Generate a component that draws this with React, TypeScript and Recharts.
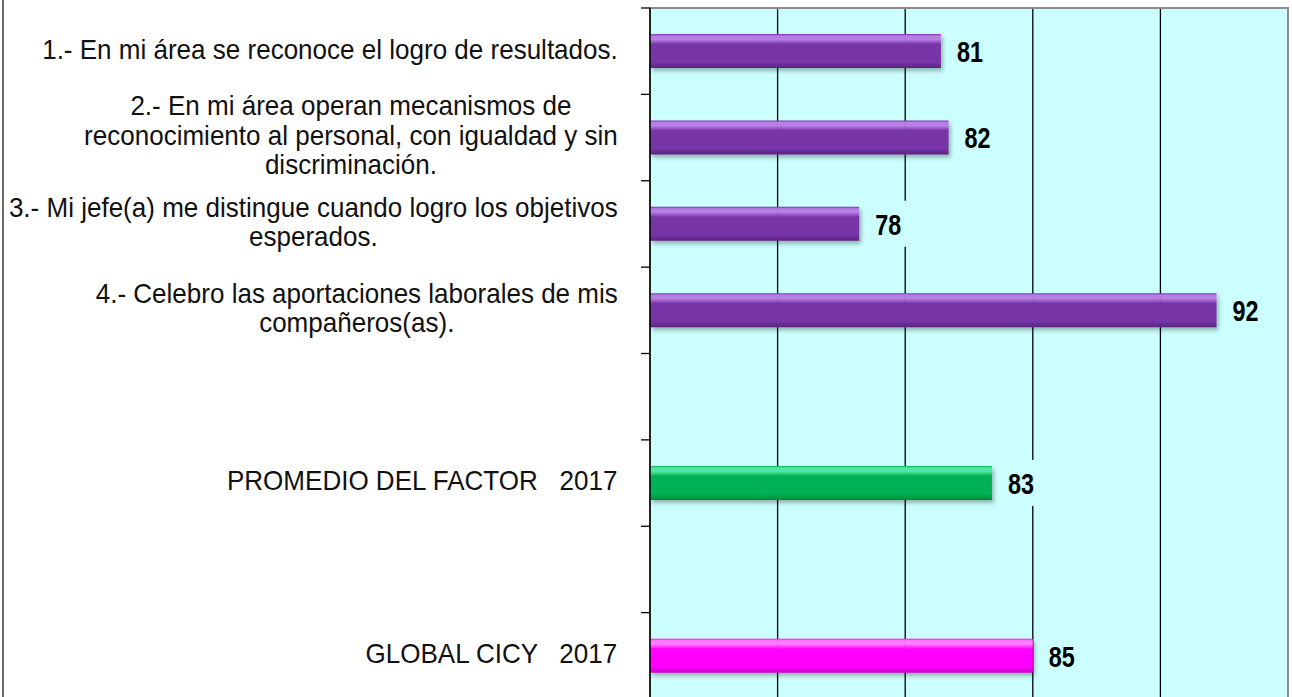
import React from 'react'
import { BarChart, Bar, XAxis, YAxis, CartesianGrid, Cell, LabelList, ReferenceArea } from 'recharts'

const categories = ['p1', 'p2', 'p3', 'p4', 'gap1', 'promedio', 'gap2', 'global']
const categoryLines = [
  ['1.- En mi área se reconoce el logro de resultados.'],
  ['2.- En mi área operan mecanismos de', 'reconocimiento al personal, con igualdad y sin', 'discriminación.'],
  ['3.- Mi jefe(a) me distingue cuando logro los objetivos', 'esperados.'],
  ['4.- Celebro las aportaciones laborales de mis', 'compañeros(as).'],
  [],
  ['PROMEDIO DEL FACTOR   2017'],
  [],
  ['GLOBAL CICY   2017'],
]
const scores = [81.4, 81.7, 78.2, 92.2, null, 83.4, null, 85.0]
const barColors = ['purple', 'purple', 'purple', 'purple', 'purple', 'green', 'green', 'magenta']
const xTicks = [75, 80, 85, 90]

const data = categories.map((id, i) => ({ id, lines: categoryLines[i], score: scores[i], color: barColors[i] }))

const W = 1292
const H = 720
const M = { top: 8, right: 4, bottom: 21, left: 0 }
const AXIS_W = 650
const band = (H - M.top - M.bottom) / categories.length
const FAMILY = '"Liberation Sans", Arial, sans-serif'
const FS = 28
const SX = 0.93

let ctx: CanvasRenderingContext2D | null = null
const measure = (s: string) => {
  if (!ctx) ctx = document.createElement('canvas').getContext('2d')
  if (!ctx) return s.length * 12
  ctx.font = `${FS}px ${FAMILY}`
  return ctx.measureText(s).width * SX
}

const CategoryTick = (props: any) => {
  const { y, index, payload } = props
  const row = data.find((d) => d.id === payload.value)
  const lines = row ? row.lines : []
  const blockW = Math.max(0, ...lines.map(measure))
  const cx = AXIS_W - 32 - blockW / 2
  const lh = 29.5
  const y0 = y - ((lines.length - 1) * lh) / 2 - 2
  return (
    <g>
      <line x1={AXIS_W - 9} x2={AXIS_W} y1={y - band / 2} y2={y - band / 2} stroke="#000" strokeWidth={1.3} />
      {index === categories.length - 1 && (
        <line x1={AXIS_W - 9} x2={AXIS_W} y1={y + band / 2} y2={y + band / 2} stroke="#000" strokeWidth={1.3} />
      )}
      {lines.map((l: string, i: number) => (
        <text
          key={i}
          transform={`translate(${cx},${y0 + i * lh}) scale(${SX},1)`}
          textAnchor="middle"
          dominantBaseline="central"
          fontFamily={FAMILY}
          fontSize={FS}
          style={{ whiteSpace: 'pre' }}
          fill="#111"
        >
          {l}
        </text>
      ))}
    </g>
  )
}

const ValueLabel = (props: any) => {
  const { x, y, width, height, value } = props
  if (value == null) return null
  const tx = x + width + 16
  const cy = y + height / 2
  return (
    <g>
      <rect x={tx - 8} y={cy - 23} width={44} height={46} fill="#ccffff" />
      <text
        transform={`translate(${tx},${cy + 1}) scale(0.78,1)`}
        dominantBaseline="central"
        fontFamily={FAMILY}
        fontWeight="bold"
        fontSize={30}
        fill="#000"
      >
        {Math.round(value)}
      </text>
    </g>
  )
}

const gradients: Record<string, [string, string, string]> = {
  purple: ['#b77ce6', '#7835a7', '#5a2382'],
  green: ['#4ee89c', '#03b255', '#008a3c'],
  magenta: ['#ff7aff', '#ff05ff', '#c800c8'],
}

export default function App() {
  return (
    <div style={{ position: 'absolute', left: 0, top: 0, width: W, height: 697, overflow: 'hidden', background: '#fff' }}>
      <div style={{ position: 'absolute', left: 2, top: 0, width: 2, height: 697, background: '#6b6b6b' }} />
      <BarChart width={W} height={H} data={data} layout="vertical" margin={M} barSize={34}>
        <defs>
          {Object.entries(gradients).map(([k, [a, b, c]]) => (
            <linearGradient key={k} id={`g-${k}`} x1="0" y1="0" x2="0" y2="1">
              <stop offset="0%" stopColor={b} />
              <stop offset="6%" stopColor={a} />
              <stop offset="16%" stopColor={a} stopOpacity={0.95} />
              <stop offset="30%" stopColor={b} />
              <stop offset="82%" stopColor={b} />
              <stop offset="100%" stopColor={c} />
            </linearGradient>
          ))}
          <filter id="shadow" x="-5%" y="-20%" width="110%" height="150%">
            <feDropShadow dx="2" dy="3" stdDeviation="2" floodColor="#000" floodOpacity="0.3" />
          </filter>
        </defs>
        <CartesianGrid horizontal={false} vertical stroke="#000" strokeWidth={1.3} fill="#ccffff" fillOpacity={1} />
        <ReferenceArea x1={70} x2={95} fill="none" stroke="#8c8c8c" strokeWidth={2} />
        <XAxis type="number" domain={[70, 95]} ticks={xTicks} hide allowDataOverflow />
        <YAxis
          type="category"
          dataKey="id"
          width={AXIS_W}
          interval={0}
          tickLine={false}
          axisLine={{ stroke: '#000', strokeWidth: 1.5 }}
          tick={<CategoryTick />}
        />
        <Bar dataKey="score" isAnimationActive={false} filter="url(#shadow)">
          {data.map((d, i) => (
            <Cell key={i} fill={`url(#g-${d.color})`} />
          ))}
          <LabelList dataKey="score" content={<ValueLabel />} />
        </Bar>
      </BarChart>
    </div>
  )
}
